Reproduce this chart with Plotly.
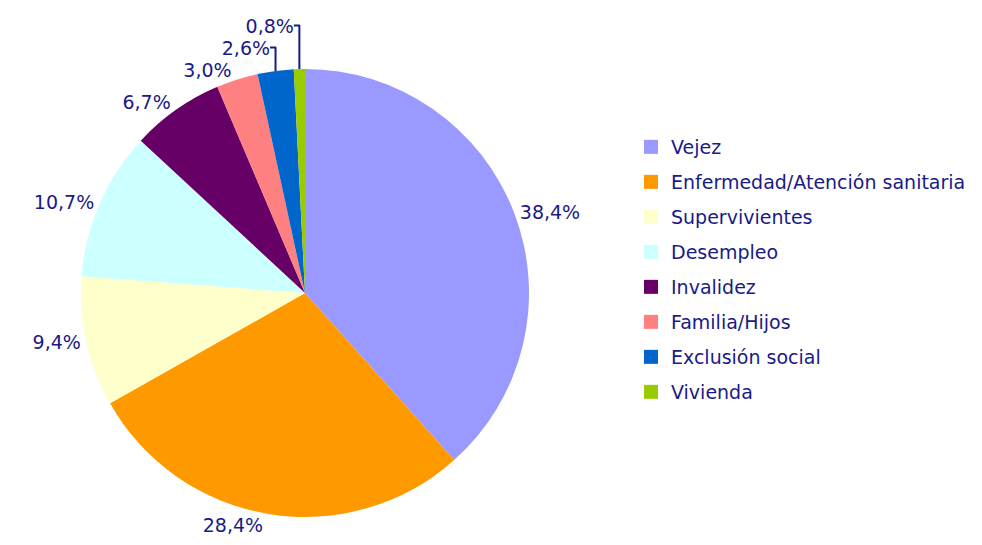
import plotly.graph_objects as go

categories = ["Vejez", "Enfermedad/Atención sanitaria", "Supervivientes", "Desempleo",
              "Invalidez", "Familia/Hijos", "Exclusión social", "Vivienda"]
values = [38.4, 28.4, 9.4, 10.7, 6.7, 3.0, 2.6, 0.8]
colors = ["#9999FF", "#FF9900", "#FFFFCC", "#CCFFFF", "#660066", "#FF8080", "#0066CC", "#99CC00"]

labels_text = [f"{v:.1f}".replace(".", ",") + "%" for v in values]
text_color = "#1a1a86"
font_family = "Verdana, DejaVu Sans, sans-serif"
font_size = 19

fig = go.Figure()
fig.add_trace(go.Pie(
    labels=categories,
    values=values,
    text=labels_text,
    texttemplate="%{text}",
    textposition="outside",
    sort=False,
    direction="clockwise",
    rotation=0,
    marker=dict(colors=colors, line=dict(width=0)),
    outsidetextfont=dict(color=text_color, size=font_size, family=font_family),
    domain=dict(x=[73 / 982, 521 / 982], y=[36 / 545, 484 / 545]),
    hoverinfo="label+percent",
    showlegend=False,
))

# legend entries (one group per category, to space rows like the original)
for name, col in zip(categories, colors):
    fig.add_trace(go.Scatter(
        x=[None], y=[None], mode="markers", name=name,
        marker=dict(symbol="square", size=14, color=col),
        legendgroup=name, showlegend=True, hoverinfo="skip",
    ))

fig.update_layout(
    width=982, height=545,
    margin=dict(l=0, r=0, t=0, b=0),
    paper_bgcolor="white",
    plot_bgcolor="white",
    xaxis=dict(visible=False),
    yaxis=dict(visible=False),
    legend=dict(
        x=623 / 982, y=1 - 120 / 545, xanchor="left", yanchor="top",
        font=dict(color=text_color, size=font_size, family=font_family),
        itemwidth=30, tracegroupgap=7.3,
        bgcolor="rgba(0,0,0,0)",
    ),
)

fig.write_html("out.html")
